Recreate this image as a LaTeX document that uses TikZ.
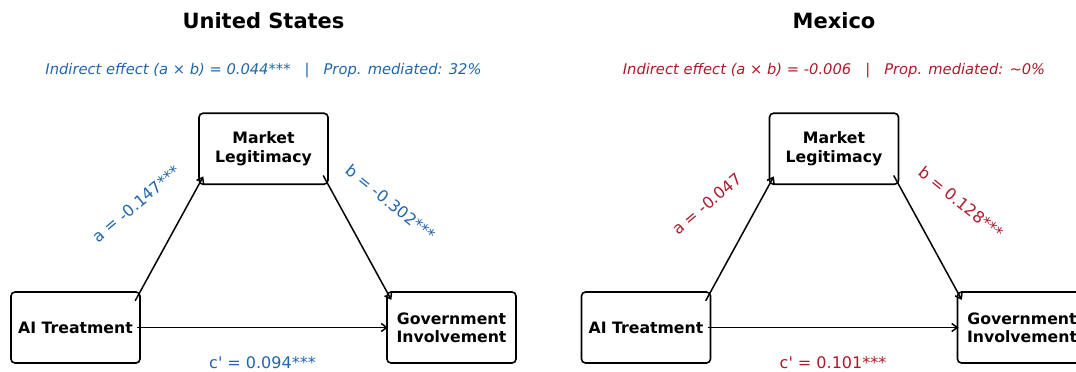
\documentclass[tikz,border=0pt]{standalone}
\usepackage{fontspec}
\setmainfont{DejaVu Sans}
\usetikzlibrary{arrows.meta}
\definecolor{usblue}{HTML}{2166AC}
\definecolor{mxred}{HTML}{B2182B}
\tikzset{
  box/.style={draw=black, line width=1.6pt, rounded corners=4pt, fill=white,
    minimum width=129pt, minimum height=71pt, inner sep=0pt, outer sep=0pt,
    align=center, font=\fontsize{15.7}{18.4}\selectfont\bfseries},
  conn/.style={line width=1.5pt, -{Straight Barb[length=5.5pt,width=8pt]}},
  coef/.style={font=\fontsize{16}{19}\selectfont, inner sep=0pt},
  ttl/.style={font=\fontsize{21}{25}\selectfont\bfseries, inner sep=0pt},
  sub/.style={font=\fontsize{14.7}{18}\selectfont\itshape, inner sep=0pt},
}
\begin{document}
\begin{tikzpicture}[x=1pt,y=-1pt]
\path[use as bounding box, clip] (0,0) rectangle (1076,372);
\fill[white] (0,0) rectangle (1076,372);

% ---------------- United States ----------------
\node[ttl] (t1) at (263.5,20.5) {United States};
\node[sub, text=usblue] (s1) at (263.5,71) {Indirect effect (a × b) = 0.044***\ \ \ |\ \ \ Prop. mediated: 32\%};
\node[box] (ai1) at (75.5,327.5) {AI Treatment};
\node[box] (ml1) at (263.5,148.75) {Market\\Legitimacy};
\node[box] (gv1) at (451.5,327.5) {Government\\Involvement};
\draw[conn, shorten <=-10pt, shorten >=-9pt] (ai1.north east) -- (ml1.south west);
\draw[conn, shorten <=-10pt, shorten >=-9pt] (ml1.south east) -- (gv1.north west);
\draw[conn, shorten <=-3pt, shorten >=-1pt] (ai1.east) -- (gv1.west);
\node[coef, text=usblue, rotate=40] (a1) at (136.5,204) {a = -0.147***};
\node[coef, text=usblue, rotate=-39] (b1) at (391,202.5) {b = -0.302***};
\node[coef, text=usblue] (c1) at (262.5,362.5) {c\textquotesingle{} = 0.094***};

% ---------------- Mexico ----------------
\node[ttl] (t2) at (834,20.5) {Mexico};
\node[sub, text=mxred] (s2) at (834,71) {Indirect effect (a × b) = -0.006\ \ \ |\ \ \ Prop. mediated: \textasciitilde 0\%};
\node[box] (ai2) at (646,327.5) {AI Treatment};
\node[box] (ml2) at (834,148.75) {Market\\Legitimacy};
\node[box] (gv2) at (1022,327.5) {Government\\Involvement};
\draw[conn, shorten <=-10pt, shorten >=-9pt] (ai2.north east) -- (ml2.south west);
\draw[conn, shorten <=-10pt, shorten >=-9pt] (ml2.south east) -- (gv2.north west);
\draw[conn, shorten <=-3pt, shorten >=-1pt] (ai2.east) -- (gv2.west);
\node[coef, text=mxred, rotate=40] (a2) at (707,204) {a = -0.047};
\node[coef, text=mxred, rotate=-39] (b2) at (961.5,202.5) {b = 0.128***};
\node[coef, text=mxred] (c2) at (833,362.5) {c\textquotesingle{} = 0.101***};
\end{tikzpicture}
\end{document}
